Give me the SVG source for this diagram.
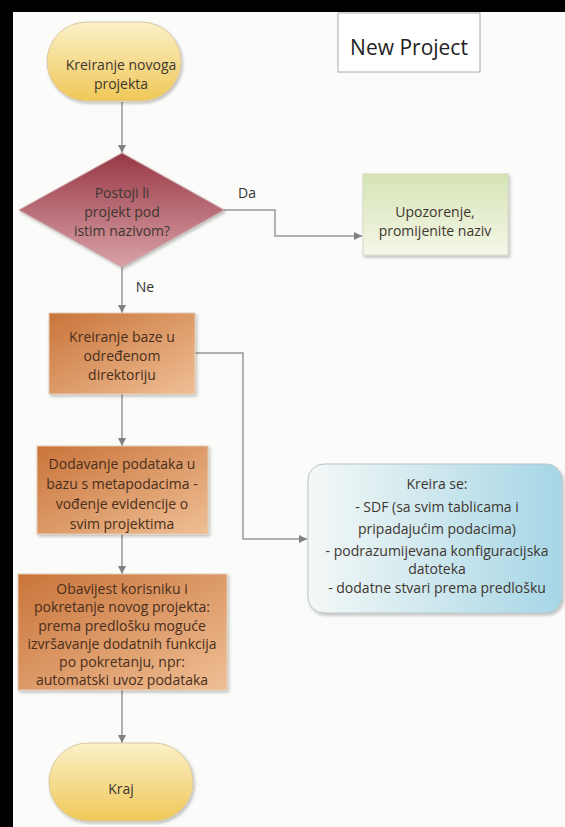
<svg xmlns="http://www.w3.org/2000/svg" width="565" height="827" viewBox="0 0 565 827">
<defs>
<style>
.t{font-family:"Open Sans","DejaVu Sans",sans-serif;font-size:14px;fill:#3e3630;text-anchor:middle}
.tb{font-family:"Open Sans","DejaVu Sans",sans-serif;font-size:14px;fill:#4a2e1c;text-anchor:middle}
.lbl{font-family:"Open Sans","DejaVu Sans",sans-serif;font-size:14px;fill:#333;text-anchor:middle}
.con{fill:none;stroke:#999;stroke-width:1.5}
.proc{fill:url(#gOr);stroke:#e6cdb5;stroke-width:1;filter:url(#sh)}
.term{fill:url(#gYe);stroke:#d9c9a0;stroke-width:1;filter:url(#sh)}
</style>
<linearGradient id="gYe" x1="0" y1="0" x2="0" y2="1">
<stop offset="0" stop-color="#fbf0c8"/><stop offset="1" stop-color="#f0c858"/>
</linearGradient>
<linearGradient id="gOr" x1="0" y1="0" x2="1" y2="1">
<stop offset="0" stop-color="#c9743a"/><stop offset="1" stop-color="#efbf95"/>
</linearGradient>
<linearGradient id="gRed" x1="0" y1="0" x2="0" y2="1">
<stop offset="0" stop-color="#983845"/><stop offset="1" stop-color="#d9a2a8"/>
</linearGradient>
<linearGradient id="gGr" x1="0" y1="0" x2="0" y2="1">
<stop offset="0" stop-color="#d6e4b4"/><stop offset="1" stop-color="#f4f7e8"/>
</linearGradient>
<linearGradient id="gBl" x1="0" y1="0" x2="1" y2="0">
<stop offset="0" stop-color="#f4f8f6"/><stop offset="1" stop-color="#a6d6e6"/>
</linearGradient>
<filter id="sh" x="-10%" y="-10%" width="125%" height="130%">
<feDropShadow dx="1.5" dy="2" stdDeviation="1.5" flood-color="#000" flood-opacity="0.25"/>
</filter>
<marker id="ar" viewBox="0 0 10 10" refX="10" refY="5" markerWidth="10" markerHeight="8" markerUnits="userSpaceOnUse" orient="auto">
<path d="M0,0 L10,5 L0,10 z" fill="#808080"/>
</marker>
</defs>
<rect x="0" y="0" width="565" height="827" fill="#000"/>
<rect x="13" y="12" width="552" height="815" fill="#fbfbfa"/>

<g id="connectors">
<path class="con" d="M122,102 V153" marker-end="url(#ar)"/>
<path class="con" d="M224,210 H275 V236 H362" marker-end="url(#ar)"/>
<path class="con" d="M122,267 V313" marker-end="url(#ar)"/>
<path class="con" d="M195,353 H243 V539 H307" marker-end="url(#ar)"/>
<path class="con" d="M122,394 V446" marker-end="url(#ar)"/>
<path class="con" d="M122,534 V574" marker-end="url(#ar)"/>
<path class="con" d="M122,690 V743" marker-end="url(#ar)"/>
<text class="lbl" x="247" y="198">Da</text>
<text class="lbl" x="145" y="292">Ne</text>
</g>

<g id="title">
<rect x="338" y="13" width="142" height="59" fill="#fff" stroke="#aaa" stroke-width="1"/>
<text x="409" y="55" style="font-family:'Open Sans','DejaVu Sans',sans-serif;font-size:21px;fill:#222;text-anchor:middle">New Project</text>
</g>

<g id="start">
<rect class="term" x="47" y="22" width="134" height="79" rx="39.5"/>
<text class="t" x="121" y="70">Kreiranje novoga</text>
<text class="t" x="121" y="89">projekta</text>
</g>

<g id="decision">
<polygon points="122,153 224,210 122,267 19,210" fill="url(#gRed)" stroke="#c9a0a4" stroke-width="1" filter="url(#sh)"/>
<text class="t" x="122" y="198">Postoji li</text>
<text class="t" x="122" y="217">projekt pod</text>
<text class="t" x="122" y="236">istim nazivom?</text>
</g>

<g id="warning">
<rect x="363" y="174" width="145" height="81" fill="url(#gGr)" stroke="#d4d8c4" stroke-width="1" filter="url(#sh)"/>
<text class="t" x="435" y="217">Upozorenje,</text>
<text class="t" x="435" y="236">promijenite naziv</text>
</g>

<g id="createdb">
<rect class="proc" x="49" y="313" width="146" height="81"/>
<text class="tb" x="122" y="342">Kreiranje baze u</text>
<text class="tb" x="122" y="361">određenom</text>
<text class="tb" x="122" y="380">direktoriju</text>
</g>

<g id="metadata">
<rect class="proc" x="37" y="446" width="171" height="88"/>
<text class="tb" x="122" y="469">Dodavanje podataka u</text>
<text class="tb" x="122" y="489">bazu s metapodacima -</text>
<text class="tb" x="122" y="509">vođenje evidencije o</text>
<text class="tb" x="122" y="529">svim projektima</text>
</g>

<g id="notify">
<rect class="proc" x="18" y="574" width="209" height="116"/>
<text class="tb" x="122" y="594">Obavijest korisniku i</text>
<text class="tb" x="122" y="612">pokretanje novog projekta:</text>
<text class="tb" x="122" y="631">prema predlošku moguće</text>
<text class="tb" x="122" y="649">izvršavanje dodatnih funkcija</text>
<text class="tb" x="122" y="667">po pokretanju, npr:</text>
<text class="tb" x="122" y="685">automatski uvoz podataka</text>
</g>

<g id="created">
<rect x="308" y="464" width="254" height="149" rx="16" fill="url(#gBl)" stroke="#b8c4c8" stroke-width="1" filter="url(#sh)"/>
<text class="t" x="437" y="489">Kreira se:</text>
<text class="t" x="437" y="512">- SDF (sa svim tablicama i</text>
<text class="t" x="437" y="534">pripadajućim podacima)</text>
<text class="t" x="437" y="556">- podrazumijevana konfiguracijska</text>
<text class="t" x="437" y="574">datoteka</text>
<text class="t" x="437" y="593">- dodatne stvari prema predlošku</text>
</g>

<g id="end">
<rect class="term" x="49" y="743" width="144" height="78" rx="39"/>
<text class="t" x="121" y="794">Kraj</text>
</g>
</svg>
